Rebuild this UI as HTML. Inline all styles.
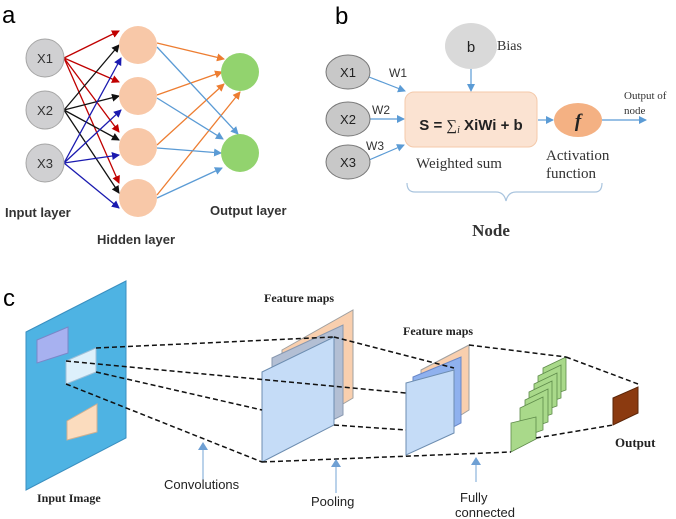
<!DOCTYPE html>
<html><head><style>body{margin:0;background:#fff}svg{display:block}</style></head><body>
<svg width="676" height="519" viewBox="0 0 676 519" xmlns="http://www.w3.org/2000/svg" font-family="Liberation Sans, sans-serif">
<defs>
<marker id="mr" markerWidth="8" markerHeight="8" refX="7" refY="4" orient="auto" markerUnits="userSpaceOnUse"><path d="M0,0 L8,4 L0,8z" fill="#c00000"/></marker>
<marker id="mk" markerWidth="8" markerHeight="8" refX="7" refY="4" orient="auto" markerUnits="userSpaceOnUse"><path d="M0,0 L8,4 L0,8z" fill="#111"/></marker>
<marker id="mb" markerWidth="8" markerHeight="8" refX="7" refY="4" orient="auto" markerUnits="userSpaceOnUse"><path d="M0,0 L8,4 L0,8z" fill="#1a1ab0"/></marker>
<marker id="mo" markerWidth="8" markerHeight="8" refX="7" refY="4" orient="auto" markerUnits="userSpaceOnUse"><path d="M0,0 L8,4 L0,8z" fill="#ed7d31"/></marker>
<marker id="ml" markerWidth="8" markerHeight="8" refX="7" refY="4" orient="auto" markerUnits="userSpaceOnUse"><path d="M0,0 L8,4 L0,8z" fill="#5b9bd5"/></marker>
</defs>
<!-- panel a -->
<text x="2" y="23" font-size="24">a</text>
<g stroke-width="1.3">
<g stroke="#c00000" marker-end="url(#mr)">
<line x1="64" y1="58" x2="119" y2="31"/><line x1="64" y1="58" x2="119" y2="82"/><line x1="64" y1="58" x2="119" y2="132"/><line x1="64" y1="58" x2="119" y2="183"/></g>
<g stroke="#111" marker-end="url(#mk)">
<line x1="64" y1="110" x2="119" y2="45"/><line x1="64" y1="110" x2="119" y2="96"/><line x1="64" y1="110" x2="119" y2="140"/><line x1="64" y1="110" x2="119" y2="193"/></g>
<g stroke="#1a1ab0" marker-end="url(#mb)">
<line x1="64" y1="163" x2="121" y2="58"/><line x1="64" y1="163" x2="121" y2="110"/><line x1="64" y1="163" x2="119" y2="155"/><line x1="64" y1="163" x2="119" y2="208"/></g>
<g stroke="#ed7d31" marker-end="url(#mo)">
<line x1="157" y1="43" x2="224" y2="59"/><line x1="157" y1="95" x2="222" y2="72"/><line x1="157" y1="145" x2="224" y2="84"/><line x1="157" y1="195" x2="240" y2="92"/></g>
<g stroke="#5b9bd5" marker-end="url(#ml)">
<line x1="157" y1="47" x2="238" y2="134"/><line x1="157" y1="98" x2="223" y2="139"/><line x1="157" y1="148" x2="221" y2="153"/><line x1="157" y1="198" x2="222" y2="168"/></g>
</g>
<g fill="#d0d0d2" stroke="#a6a6a6"><circle cx="45" cy="58" r="19"/><circle cx="45" cy="110" r="19"/><circle cx="45" cy="163" r="19"/></g>
<g font-size="13" fill="#333" text-anchor="middle"><text x="45" y="63">X1</text><text x="45" y="115">X2</text><text x="45" y="168">X3</text></g>
<g fill="#f8c8a8"><circle cx="138" cy="45" r="19"/><circle cx="138" cy="96" r="19"/><circle cx="138" cy="147" r="19"/><circle cx="138" cy="198" r="19"/></g>
<g fill="#92d36e"><circle cx="240" cy="72" r="19"/><circle cx="240" cy="153" r="19"/></g>
<g font-size="13" font-weight="bold" fill="#333"><text x="5" y="217">Input layer</text><text x="97" y="244">Hidden layer</text><text x="210" y="215">Output layer</text></g>
<!-- panel b -->
<text x="335" y="24" font-size="24">b</text>
<g stroke="#5b9bd5" stroke-width="1.2" marker-end="url(#ml)">
<line x1="369" y1="77" x2="405" y2="91"/><line x1="370" y1="119" x2="404" y2="119"/><line x1="369" y1="160" x2="404" y2="145"/>
<line x1="471" y1="66" x2="471" y2="91"/><line x1="538" y1="120" x2="553" y2="120"/><line x1="602" y1="120" x2="646" y2="120"/></g>
<ellipse cx="471" cy="46" rx="26" ry="23" fill="#d9d9d9"/>
<text x="471" y="52" font-size="15" text-anchor="middle" fill="#222">b</text>
<text x="497" y="50" font-size="14" font-family="Liberation Serif, serif" fill="#333">Bias</text>
<g fill="#c8c8c8" stroke="#777"><ellipse cx="348" cy="72" rx="22" ry="17"/><ellipse cx="348" cy="119" rx="22" ry="17"/><ellipse cx="348" cy="162" rx="22" ry="17"/></g>
<g font-size="13" fill="#222" text-anchor="middle"><text x="348" y="77">X1</text><text x="348" y="124">X2</text><text x="348" y="167">X3</text></g>
<g font-size="12" fill="#333"><text x="389" y="77">W1</text><text x="372" y="114">W2</text><text x="366" y="150">W3</text></g>
<rect x="405" y="92" width="132" height="55" rx="9" fill="#fbe3d2" stroke="#f4c9aa"/>
<text x="471" y="130" font-size="15" font-weight="bold" text-anchor="middle" fill="#222">S = <tspan font-family="Liberation Serif, serif" font-weight="normal">∑<tspan font-style="italic" font-size="10" dy="3">i</tspan></tspan><tspan dy="-3"> XiWi + b</tspan></text>
<ellipse cx="578" cy="120" rx="24" ry="17" fill="#f4b183"/>
<text x="578" y="127" font-size="19" font-weight="bold" font-style="italic" font-family="Liberation Serif, serif" text-anchor="middle" fill="#222">f</text>
<g font-family="Liberation Serif, serif" fill="#333"><text x="624" y="99" font-size="11">Output of</text><text x="624" y="114" font-size="11">node</text>
<text x="416" y="168" font-size="15">Weighted sum</text><text x="546" y="160" font-size="15">Activation</text><text x="546" y="178" font-size="15">function</text>
<text x="491" y="236" font-size="17" font-weight="bold" text-anchor="middle">Node</text></g>
<path d="M407,183 Q407,192 415,192 L496,192 Q504,192 506,201 Q508,192 516,192 L595,192 Q602,192 602,183" fill="none" stroke="#a9c4de" stroke-width="1.2"/>
<!-- panel c -->
<text x="3" y="306" font-size="24">c</text>
<polygon points="26,332 126,281 126,438 26,490" fill="#4eb3e3" stroke="#3a8fc0"/>
<polygon points="37,340 68,327 68,353 37,363" fill="#a7b1f0" stroke="#7a86c8"/>
<polygon points="67,421 97,404 97,432 67,440" fill="#fbdcbe" stroke="#d0b090"/>
<polygon points="66,361 96,348 96,372 66,384" fill="#ddf0fb" stroke="#a0c0d8"/>
<polygon points="282,350 353,310 353,398 282,440" fill="#f9cfae" stroke="#a0a0a0"/>
<polygon points="272,358 343,325 343,415 272,450" fill="#b3bfd4" stroke="#8898b0"/>
<polygon points="262,372 334,337 334,425 262,462" fill="#c5dcf7" stroke="#6d8db0"/>
<polygon points="421,370 469,345 469,410 421,440" fill="#f9cfae" stroke="#a0a0a0"/>
<polygon points="413,377 461,357 461,423 413,448" fill="#8fb1ee" stroke="#6a88c8"/>
<polygon points="406,383 454,370 454,433 406,455" fill="#c5dcf7" stroke="#6d8db0"/>
<g fill="#a9d98a" stroke="#5e8a4a" stroke-width="0.8">
<polygon points="543,368 566,357 566,390 543,398"/><polygon points="538,376 561,365 561,398 538,406"/><polygon points="534,384 557,373 557,406 534,414"/><polygon points="529,392 552,381 552,414 529,422"/><polygon points="525,400 548,389 548,422 525,430"/><polygon points="520,408 543,397 543,430 520,438"/><polygon points="511,423 536,417 536,439 511,452"/></g>
<polygon points="613,398 638,387 638,413 613,425" fill="#8b3a10" stroke="#5a2508"/>
<g stroke="#111" stroke-width="1.5" stroke-dasharray="5,3" fill="none">
<line x1="96" y1="348" x2="334" y2="337"/><line x1="66" y1="361" x2="406" y2="393"/><line x1="96" y1="372" x2="262" y2="410"/><line x1="66" y1="384" x2="262" y2="462"/>
<line x1="334" y1="337" x2="454" y2="368"/><line x1="334" y1="425" x2="406" y2="430"/><line x1="262" y1="462" x2="511" y2="452"/>
<line x1="469" y1="345" x2="566" y2="357"/><line x1="566" y1="357" x2="638" y2="384"/><line x1="536" y1="438" x2="613" y2="425"/></g>
<g stroke="#8db4dc" stroke-width="1.2"><line x1="203" y1="480" x2="203" y2="448"/><line x1="336" y1="493" x2="336" y2="465"/><line x1="476" y1="482" x2="476" y2="463"/></g>
<g fill="#6fa0d4"><path d="M198,450 L203,442 L208,450z"/><path d="M331,467 L336,459 L341,467z"/><path d="M471,465 L476,457 L481,465z"/></g>
<g font-size="13" fill="#222"><text x="164" y="489">Convolutions</text><text x="311" y="506">Pooling</text><text x="460" y="502">Fully</text><text x="455" y="517">connected</text></g>
<g font-family="Liberation Serif, serif" font-weight="bold" fill="#222"><text x="37" y="502" font-size="12">Input Image</text><text x="264" y="302" font-size="12">Feature maps</text><text x="403" y="335" font-size="12">Feature maps</text><text x="615" y="447" font-size="13">Output</text></g>
</svg>
</body></html>
